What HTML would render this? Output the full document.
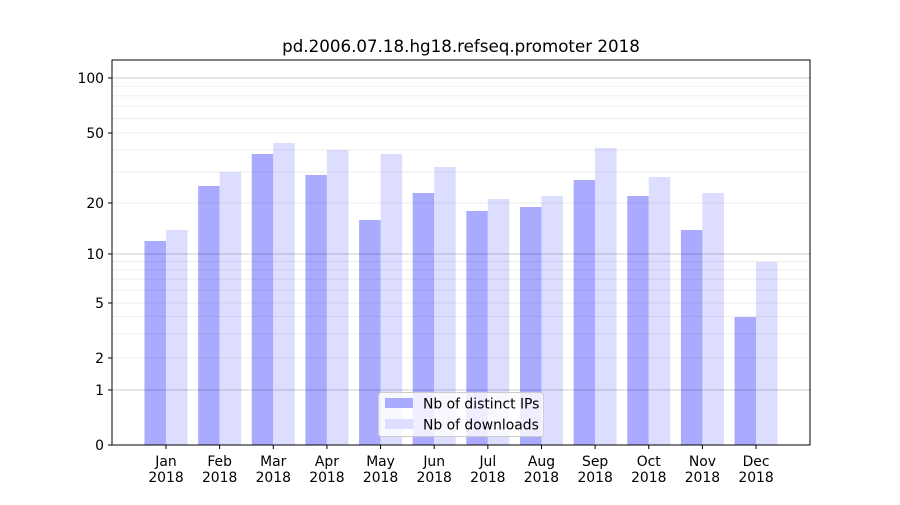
<!DOCTYPE html>
<html><head><meta charset="utf-8"><style>
body{margin:0;background:#fff;}
svg text{font-family:"DejaVu Sans","Liberation Sans",sans-serif;font-size:13.9px;fill:#000;}
</style></head><body>
<svg id="s" width="900" height="500" xmlns="http://www.w3.org/2000/svg">
<rect width="900" height="500" fill="#fff"/>
<g id="bars"></g>
<g id="grid"></g>
<rect x="112" y="60" width="698" height="385" fill="none" stroke="#000" stroke-width="1"/>
<g id="ax"></g>
<text x="461" y="52" text-anchor="middle" style="font-size:16.7px">pd.2006.07.18.hg18.refseq.promoter 2018</text>
<rect x="378.5" y="392.5" width="165" height="44" rx="3" fill="#fff" fill-opacity="0.8" stroke="#ccc"/>
<rect x="385" y="398" width="28" height="10" fill="#aaaaff"/>
<text x="423" y="408.5">Nb of distinct IPs</text>
<rect x="385" y="419" width="28" height="10" fill="#ddddff"/>
<text x="423" y="429.5">Nb of downloads</text>
</svg>
<script>
var ns="http://www.w3.org/2000/svg";
function el(p,t,a,txt){var e=document.createElementNS(ns,t);for(var k in a)e.setAttribute(k,a[k]);if(txt)e.textContent=txt;document.getElementById(p).appendChild(e);}
var pts=[[1,390],[2,358],[5,303],[10,254],[20,203],[50,133],[100,78]];
function Y(v){for(var i=0;i<pts.length-1;i++){var a=pts[i],b=pts[i+1];if(v>=a[0]&&v<=b[0]){var t=Math.log(v/a[0])/Math.log(b[0]/a[0]);return a[1]+t*(b[1]-a[1]);}}return 78-Math.log(v/100)/Math.log(10)*176;}
var minors=[2,3,4,5,6,7,8,9,20,30,40,50,60,70,80,90,200];
minors.forEach(function(v){var y=Y(v);if(y>60)el("grid","line",{x1:112,x2:810,y1:y,y2:y,stroke:"#000","stroke-opacity":0.07,"stroke-width":1});});
[1,10,100].forEach(function(v){var y=Y(v);el("grid","line",{x1:112,x2:810,y1:y,y2:y,stroke:"#000","stroke-opacity":0.2,"stroke-width":1});});
[[0,445],[1,390],[2,358],[5,303],[10,254],[20,203],[50,133],[100,78]].forEach(function(p){
el("ax","line",{x1:108,x2:112,y1:p[1],y2:p[1],stroke:"#000"});
el("ax","text",{x:104,y:p[1]+5,"text-anchor":"end"},String(p[0]));});
var ip=[241,186,154,175,220,193,211,207,180,196,230,317];
var dl=[230,172,143,150,154,167,199,196,148,177,193,262];
var m=["Jan","Feb","Mar","Apr","May","Jun","Jul","Aug","Sep","Oct","Nov","Dec"];
for(var i=0;i<12;i++){var c=166+i*53.64;
el("bars","rect",{x:c-21.5,y:ip[i],width:21.5,height:445-ip[i],fill:"#aaaaff"});
el("bars","rect",{x:c,y:dl[i],width:21.5,height:445-dl[i],fill:"#ddddff"});
el("ax","line",{x1:c,x2:c,y1:445,y2:449,stroke:"#000"});
el("ax","text",{x:c,y:466,"text-anchor":"middle"},m[i]);
el("ax","text",{x:c,y:482,"text-anchor":"middle"},"2018");}
</script>
</body></html>
